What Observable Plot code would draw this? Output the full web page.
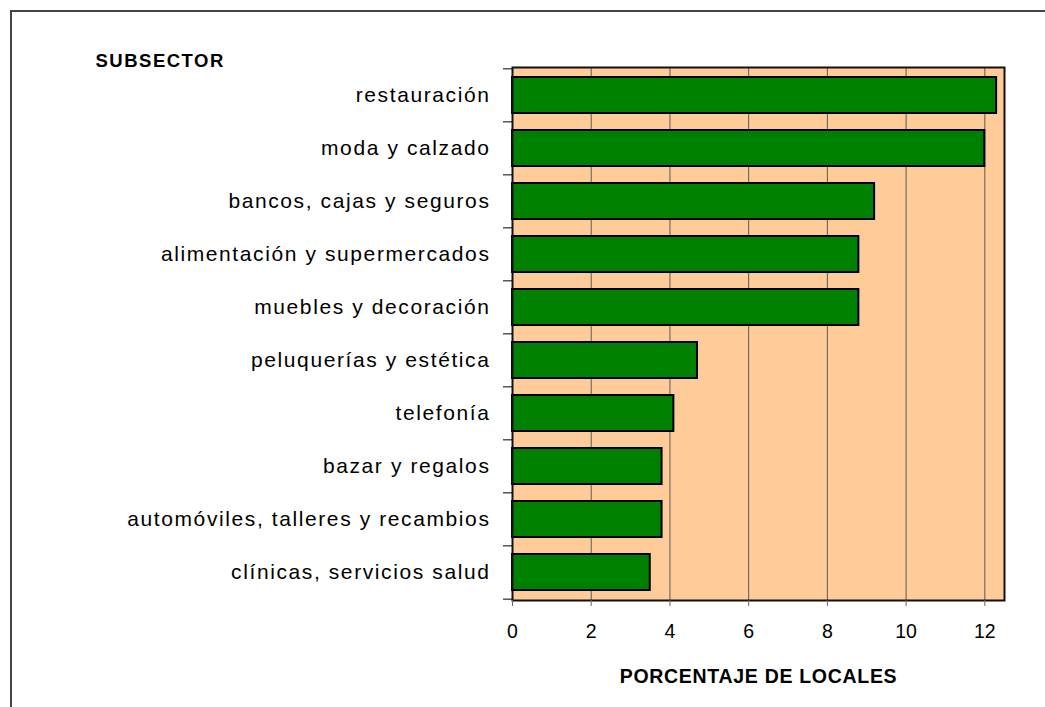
<!DOCTYPE html>
<html>
<head>
<meta charset="utf-8">
<script src="https://cdn.jsdelivr.net/npm/d3@7"></script>
<script src="https://cdn.jsdelivr.net/npm/@observablehq/plot@0.6"></script>
<style>
  html, body { margin: 0; padding: 0; background: #fff; overflow: hidden; }
  #wrap { position: relative; width: 1045px; height: 707px; }
  #border { position: absolute; left: 10px; top: 10px; width: 1100px; height: 800px;
            border-left: 2px solid #444; border-top: 2px solid #444; pointer-events: none; }
  svg [aria-label="y-axis tick label"] text { letter-spacing: 1.6px; font-size: 21px; }
  svg [aria-label="x-axis label"] text { font-weight: bold; font-size: 19.5px; letter-spacing: 0.7px; }
  svg .subsector text { letter-spacing: 1.5px; }
</style>
</head>
<body>
<div id="wrap"><div id="border"></div></div>
<script>
const categories = [
  "restauración",
  "moda y calzado",
  "bancos, cajas y seguros",
  "alimentación y supermercados",
  "muebles y decoración",
  "peluquerías y estética",
  "telefonía",
  "bazar y regalos",
  "automóviles, talleres y recambios",
  "clínicas, servicios salud"
];
const values = [12.3, 12.0, 9.2, 8.8, 8.8, 4.7, 4.1, 3.8, 3.8, 3.5];
const xTicks = [0, 2, 4, 6, 8, 10, 12];
const yTitle = "SUBSECTOR";
const xTitle = "PORCENTAJE DE LOCALES";

const data = categories.map((c, i) => ({category: c, value: values[i]}));

const W = 1045, H = 707, mT = 67, mB = 107, mL = 512;
const step = (H - mT - mB) / categories.length;

const chart = Plot.plot({
  width: W,
  height: H,
  marginLeft: mL,
  marginRight: 41,
  marginTop: mT,
  marginBottom: mB,
  style: {fontFamily: "'Liberation Sans', Arial, sans-serif", fontSize: "19.5px", color: "#000", background: "transparent"},
  x: {domain: [0, 12.5]},
  y: {domain: categories, paddingInner: 0.32, paddingOuter: 0.16},
  marks: [
    Plot.frame({fill: "#FFCC99"}),
    Plot.gridX(xTicks, {stroke: "#5a5a5a", strokeOpacity: 1, strokeWidth: 1}),
    Plot.barX(data, {x: "value", y: "category", fill: "#008000", stroke: "#000", strokeWidth: 2}),
    Plot.frame({stroke: "#111", strokeWidth: 2}),
    Plot.axisX({ticks: xTicks, tickSize: 6, tickPadding: 18, stroke: "#666",
      label: xTitle, labelAnchor: "center", labelArrow: "none", labelOffset: 82}),
    Plot.axisY({tickSize: 0, tickPadding: 22, label: null}),
    Plot.axisY({tickSize: 9, tickFormat: () => "", dy: -step / 2, label: null, stroke: "#000"}),
    Plot.axisY({ticks: [categories[categories.length - 1]], tickSize: 9, tickFormat: () => "", dy: step / 2, label: null, stroke: "#000"}),
    Plot.text([yTitle], {frameAnchor: "top-left", text: d => d, textAnchor: "start", lineAnchor: "bottom",
      dx: 95 - mL, dy: -1, fontWeight: "bold", fontSize: 18.5, className: "subsector"})
  ]
});
document.getElementById("wrap").prepend(chart);
</script>
</body>
</html>
